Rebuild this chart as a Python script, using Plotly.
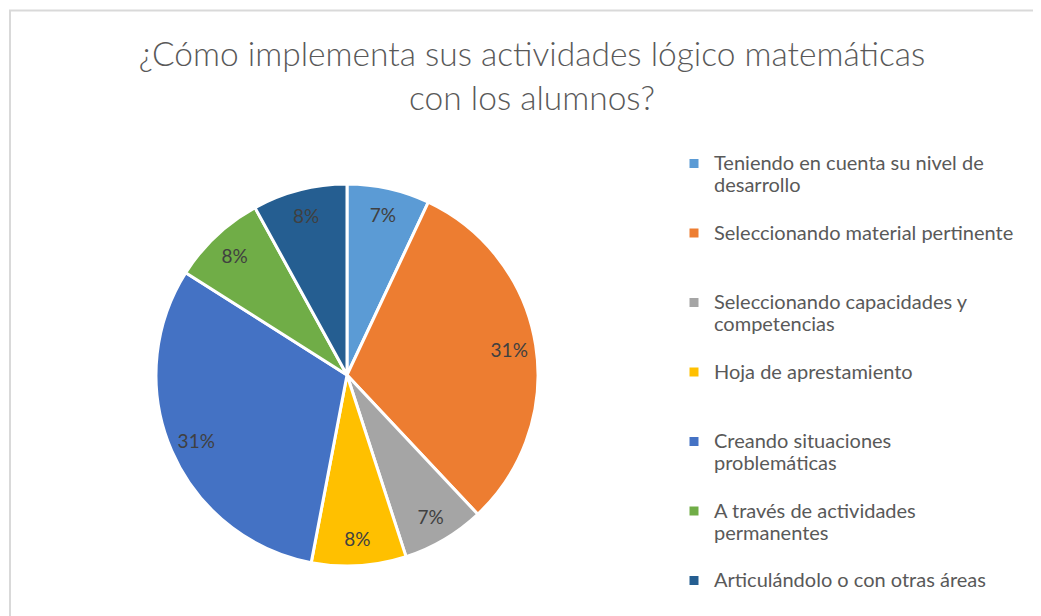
import plotly.graph_objects as go

W, H = 1041, 616
# the page body adds an 8px margin, so screen positions are offset by 8px
OX, OY = 8, 8


def px(x):
    return (x - OX) / W


def py(y):
    return 1 - (y - OY) / H


labels = [
    "Teniendo en cuenta su nivel de<br>desarrollo",
    "Seleccionando material pertinente",
    "Seleccionando capacidades y<br>competencias",
    "Hoja de aprestamiento",
    "Creando situaciones<br>problemáticas",
    "A través de actividades<br>permanentes",
    "Articulándolo o con otras áreas",
]
values = [7, 31, 7, 8, 31, 8, 8]
colors = ["#5B9BD5", "#ED7D31", "#A5A5A5", "#FFC000", "#4472C4", "#70AD47", "#255E91"]

# pad each legend entry to three lines so all entries share the same height
SPAN = "<span style='font-size:20px'>"
legend_labels = []
for lab in labels:
    n = lab.count("<br>") + 1
    full = lab + "<br>\u00a0" * (3 - n)
    legend_labels.append(SPAN + full.replace("<br>", "</span><br>" + SPAN) + "</span>")

domain = dict(x=[px(156), px(538)], y=[py(566), py(184)])

# coloured slices
pie = go.Pie(
    labels=legend_labels,
    values=values,
    sort=False,
    direction="clockwise",
    rotation=0,
    marker=dict(colors=colors, line=dict(color="white", width=3)),
    textinfo="none",
    hoverinfo="percent",
    domain=domain,
)

# percentage labels placed near the rim (same data, transparent ring)
text_ring = go.Pie(
    labels=legend_labels,
    values=values,
    sort=False,
    direction="clockwise",
    rotation=0,
    hole=0.72,
    marker=dict(colors=["rgba(0,0,0,0)"] * len(values), line=dict(width=0)),
    texttemplate="%{percent:.0%}",
    textposition="inside",
    insidetextorientation="horizontal",
    textfont=dict(family="Lato", size=19, color="#404040"),
    hoverinfo="skip",
    showlegend=False,
    domain=domain,
)

fig = go.Figure([pie, text_ring])

fig.update_layout(
    width=W, height=H,
    margin=dict(l=0, r=0, t=0, b=0, autoexpand=False),
    paper_bgcolor="white",
    plot_bgcolor="white",
    font=dict(family="Lato", color="#595959"),
    title=dict(
        text="¿Cómo implementa sus actividades lógico matemáticas<br>con los alumnos?",
        x=px(532), xanchor="center",
        y=1 - 58 / H, yanchor="top", yref="container",
        font=dict(family="Lato", size=33.5, color="#595959", weight=300),
    ),
    legend=dict(
        x=px(674), xanchor="left",
        y=py(146), yanchor="top",
        valign="top",
        font=dict(family="Lato", size=17.05, color="#595959"),
        bgcolor="rgba(0,0,0,0)",
        traceorder="normal",
    ),
    shapes=[dict(
        type="rect", xref="paper", yref="paper",
        x0=px(10), x1=1.05, y0=-0.05, y1=py(10.5),
        line=dict(color="#D9D9D9", width=2), layer="below",
    )],
)

fig.write_html("out.html")
